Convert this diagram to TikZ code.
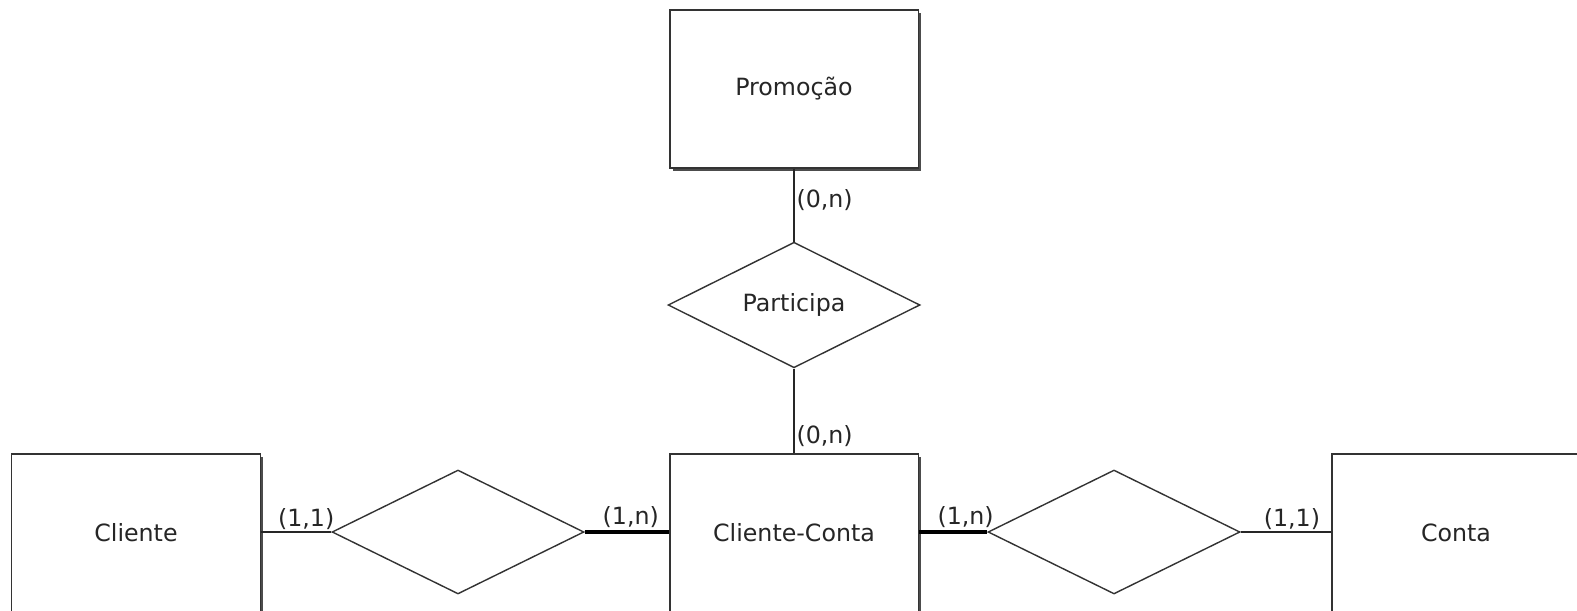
\documentclass[tikz,border=0pt]{standalone}
\usepackage{fontspec}
\setmainfont{DejaVu Sans}
\usepackage{tikz}
\usetikzlibrary{shapes.geometric}
\usetikzlibrary{shadows}
\tikzstyle{entity}=[draw=black!80,fill=white,line width=1.1,minimum width=4.98cm,
                    minimum height=3.16cm,inner sep=0,text=black!85,
                    drop shadow={shadow xshift=0.06cm,shadow yshift=-0.06cm,fill=black!70,opacity=1}]
\tikzstyle{relation}=[diamond,draw=black!80,fill=white,line width=0.8,minimum width=5.04cm,
                      minimum height=2.48cm,inner sep=0,text=black!85]
\tikzstyle{link}=[draw=black!85,line width=0.9]
\tikzstyle{link'}=[draw=black,line width=2.8]
\tikzstyle{card}=[text=black!85,inner sep=1]

\begin{document}
\begin{tikzpicture}[x=0.02cm,y=-0.02cm,font=\fontsize{13.5}{16}\selectfont]
        \useasboundingbox (0,0) rectangle (1577,611);

        \def\rowy{532} % height of the lower row
        \def\midx{794} % middle column

        % ENTITIES
        \node[entity] (promocao) at (\midx,89) {Promoção};
        \node[entity] (clienteconta) at (\midx,\rowy+1) {Cliente-Conta};
        \node[entity] (cliente) at (136,\rowy+1) {Cliente};
        \node[entity] (conta) at (1456,\rowy+1) {Conta};

        % RELATIONSHIPS
        \node[relation] (participa) at (\midx,305) {Participa};
        \node[relation] (relcliente) at (458,\rowy) {};
        \node[relation] (relconta) at (1114,\rowy) {};

        % CONNECTORS
        \draw[link] (promocao) -- node[card,right,pos=0.43] {(0,n)} (participa);
        \draw[link] (participa) -- node[card,right,pos=0.8] {(0,n)} (clienteconta);
        \draw[link] (cliente.east |- relcliente) -- node[card,above,pos=0.64] {(1,1)} (relcliente.west);
        \draw[link'] (relcliente.east) -- node[card,above,pos=0.55] {(1,n)} (clienteconta.west |- relcliente);
        \draw[link'] (clienteconta.east |- relconta) -- node[card,above,pos=0.68] {(1,n)} (relconta.west);
        \draw[link] (relconta.east) -- node[card,above,pos=0.57] {(1,1)} (conta.west |- relconta);

\end{tikzpicture}
\end{document}
